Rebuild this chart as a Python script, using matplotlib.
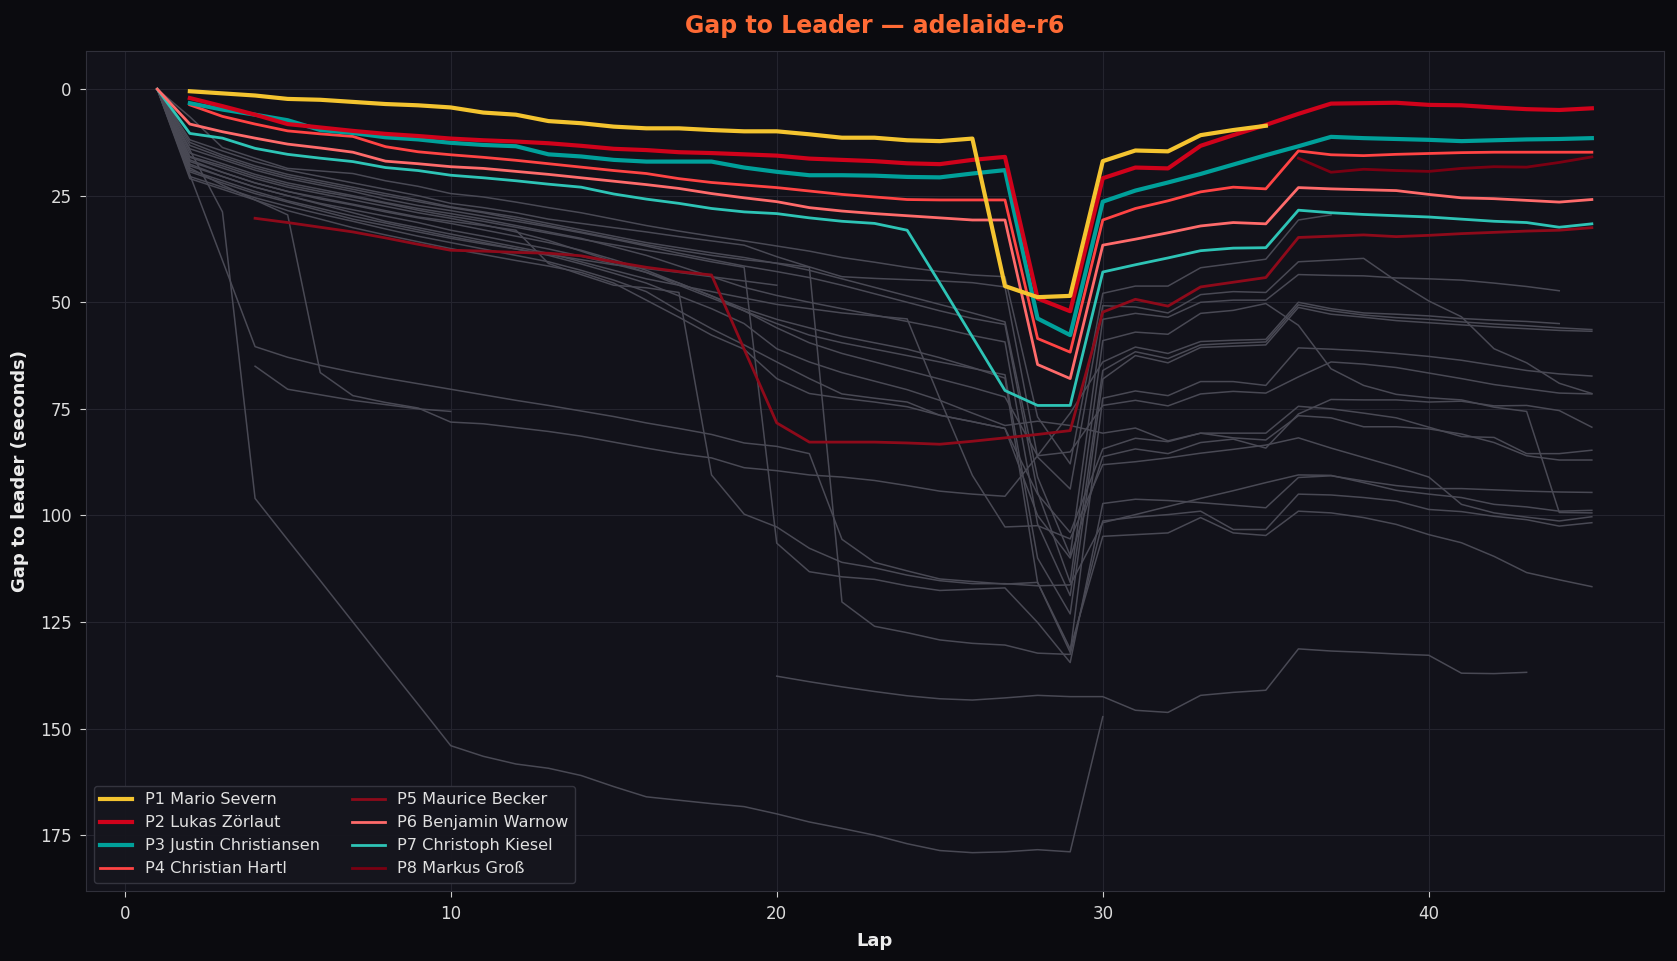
import numpy as np
import matplotlib
matplotlib.use("Agg")
import matplotlib.pyplot as plt

N = None
laps = list(range(1, 46))

# coloured drivers (gap to leader in seconds, per lap)
drivers = ["P1 Mario Severn", "P2 Lukas Zörlaut", "P3 Justin Christiansen", "P4 Christian Hartl",
           "P5 Maurice Becker", "P6 Benjamin Warnow", "P7 Christoph Kiesel", "P8 Markus Groß"]
colors = ["#f4c430", "#d0021b", "#00a09a", "#ff4444", "#8e0a1a", "#ff6b6b", "#2ec4b6", "#7a0012"]
widths = [3.0, 3.0, 3.0, 2.0, 2.0, 2.0, 2.0, 2.0]

p1 = [N, 0.5, 1.0, 1.5, 2.3, 2.5, 3.0, 3.5, 3.8, 4.3,
      5.5, 6.0, 7.5, 8.0, 8.8, 9.2, 9.2, 9.6, 9.9, 9.9,
      10.6, 11.4, 11.4, 12.0, 12.2, 11.6, 46.2, 48.8, 48.5, 16.9,
      14.4, 14.6, 10.8, 9.6, 8.6, N, N, N, N, N,
      N, N, N, N, N]
p2 = [N, 2.1, 4.0, 6.0, 8.2, 9.0, 9.8, 10.5, 11.0, 11.6,
      12.0, 12.3, 12.7, 13.3, 14.0, 14.3, 14.8, 15.0, 15.3, 15.6,
      16.3, 16.6, 16.9, 17.4, 17.6, 16.6, 15.9, 49.1, 52.1, 20.9,
      18.4, 18.6, 13.3, 10.8, 8.4, 5.8, 3.4, 3.3, 3.2, 3.7,
      3.8, 4.3, 4.7, 4.9, 4.5]
p3 = [N, 3.3, 4.8, 6.0, 7.3, 9.6, 10.3, 11.3, 11.8, 12.6,
      13.1, 13.4, 15.3, 15.8, 16.6, 17.0, 17.0, 17.0, 18.4, 19.4,
      20.2, 20.2, 20.3, 20.6, 20.7, 19.8, 19.0, 53.8, 57.7, 26.4,
      23.8, 21.9, 19.9, 17.7, 15.5, 13.4, 11.2, 11.5, 11.7, 11.9,
      12.2, 12.0, 11.8, 11.7, 11.5]
p4 = [N, 3.7, 6.4, 8.2, 9.8, 10.5, 11.1, 13.5, 14.7, 15.4,
      16.0, 16.7, 17.5, 18.3, 19.1, 19.8, 21.0, 21.9, 22.5, 23.1,
      23.9, 24.7, 25.3, 25.9, 26.0, 26.0, 26.0, 58.5, 61.7, 30.7,
      28.0, 26.2, 24.1, 23.0, 23.4, 14.5, 15.4, 15.6, 15.3, 15.1,
      14.9, 14.8, 14.8, 14.8, 14.8]
p5 = [N, N, N, 30.3, 31.3, 32.4, 33.5, 34.9, 36.4, 37.8,
      38.0, 38.3, 38.5, 39.1, 40.5, 41.8, 42.8, 43.6, 61.0, 78.3,
      82.8, 82.8, 82.8, 83.0, 83.3, 82.6, 81.8, 81.0, 80.1, 52.3,
      49.3, 50.9, 46.4, 45.3, 44.2, 34.8, 34.5, 34.2, 34.6, 34.3,
      33.9, 33.6, 33.3, 33.1, 32.5]
p6 = [0, 8.2, 10.0, 11.5, 12.9, 13.8, 14.8, 16.9, 17.5, 18.2,
      18.6, 19.3, 20.0, 20.8, 21.6, 22.4, 23.3, 24.5, 25.5, 26.4,
      27.8, 28.6, 29.2, 29.7, 30.2, 30.7, 30.7, 64.6, 67.9, 36.6,
      35.2, 33.7, 32.1, 31.3, 31.6, 23.1, 23.4, 23.6, 23.8, 24.7,
      25.5, 25.7, 26.1, 26.5, 25.9]
p7 = [0, 10.4, 11.5, 13.9, 15.3, 16.2, 17.0, 18.4, 19.1, 20.2,
      20.8, 21.5, 22.3, 23.0, 24.6, 25.8, 26.8, 28.0, 28.8, 29.2,
      30.2, 31.0, 31.5, 33.1, 45.5, 58.1, 70.7, 74.2, 74.2, 42.9,
      41.2, 39.6, 37.9, 37.3, 37.2, 28.4, 29.0, 29.4, 29.7, 30.0,
      30.5, 31.0, 31.3, 32.4, 31.6]
p8 = [N] * 35 + [16.2, 19.5, 18.8, 19.1, 19.3,
                 18.6, 18.2, 18.3, 17.2, 15.9]

# rest of the field
g01 = [0, 14.3, 28.8, 96.0, 105.7, 115.3, 125.0, 134.7, 144.3, 154.0,
       156.5, 158.3, 159.3, 161.0, 163.6, 166.0, 166.8, 167.6, 168.3, 170.0,
       171.9, 173.4, 175.0, 177.0, 178.6, 179.1, 178.9, 178.4, 178.9, 147.2] + [N] * 15
g02 = [0, 20.1, 40.2, 60.4, 62.9, 64.8, 66.4, 67.8, 69.1, 70.4,
       71.7, 73.0, 74.2, 75.5, 76.8, 78.3, 79.6, 81.0, 83.0, 83.8,
       85.5, 105.6, 111.0, 113.0, 114.9, 115.5, 116.1, 115.7, 131.3, 104.9,
       104.5, 104.1, 100.5, 104.1, 104.7, 99.0, 99.4, 100.5, 102.1, 104.5,
       106.4, 109.6, 113.4, 115.1, 116.7]
g03 = [0, 18.5, 22.5, 26.0, 29.5, 66.5, 71.9, 73.5, 74.8, 78.1,
       78.5, 79.4, 80.3, 81.4, 82.8, 84.2, 85.5, 86.5, 88.8, 89.5,
       90.5, 91.0, 91.8, 93.0, 94.3, 95.0, 95.5, 86.0, 76.0, 64.0,
       60.5, 62.0, 59.2, 58.9, 58.7, 50.0, 51.5, 52.5, 52.8, 53.2,
       53.8, 54.2, 54.5, 55.0, N]
g04 = [N, N, N, 65.0, 70.4, 71.7, 73.0, 74.0, 75.0, 75.6] + [N] * 35
g05 = [0, 16.6, 19.5, 22.0, 24.0, 25.5, 27.0, 28.5, 30.0, 31.0,
       32.0, 33.1, 40.9, 43.5, 46.0, 46.6, 47.7, 90.5, 99.7, 102.7,
       107.7, 111.0, 112.3, 114.0, 115.3, 116.0, 116.0, 116.5, 116.3, 101.7,
       99.8, 97.9, 96.0, 94.2, 92.3, 90.5, 90.6, 92.3, 94.1, 95.0,
       95.8, 97.4, 98.0, 99.0, 98.8]
g06 = [0, 15.8, 18.0, 20.5, 22.5, 24.0, 25.3, 26.8, 28.4, 29.8,
       31.0, 32.4, 33.8, 35.2, 36.5, 37.8, 39.0, 40.5, 41.8, 106.5,
       113.2, 114.4, 115.0, 116.5, 117.6, 117.3, 117.0, 125.1, 134.5, 97.2,
       96.2, 96.5, 97.0, 97.6, 98.2, 91.1, 90.7, 91.9, 93.0, 93.7,
       93.7, 94.0, 94.3, 94.5, 94.6]
g07 = [0, 13.2, 16.0, 18.5, 20.5, 22.0, 23.5, 25.0, 26.4, 27.8,
       29.0, 30.5, 32.0, 33.5, 35.0, 36.5, 37.8, 39.0, 40.0, 40.8,
       41.8, 120.3, 126.0, 127.5, 129.2, 130.0, 130.4, 132.3, 132.6, 101.3,
       100.4, 99.8, 99.0, 103.3, 103.3, 95.0, 95.2, 95.8, 96.6, 98.6,
       99.1, 100.2, 101.0, 102.5, 101.7]
g08 = [0, 19.4, 22.0, 24.5, 26.5, 28.5, 30.5, 32.0, 33.5, 35.0,
       36.3, 37.5, 38.8, 40.0, 41.2, 42.1, 43.0, 44.0, 45.0, 46.0] + [N] * 25
g09 = [0, 17.6, 20.5, 23.0, 25.0, 27.0, 29.0, 31.0, 32.5, 34.0,
       35.5, 37.0, 38.5, 40.5, 42.5, 44.5, 46.0, 47.5, 49.0, 50.5,
       51.5, 52.5, 53.2, 53.9, 72.6, 90.6, 102.7, 102.4, 105.5, 88.1,
       87.4, 86.5, 85.4, 84.5, 83.5, 81.8, 84.2, 86.4, 88.6, 91.0,
       97.4, 99.4, 100.4, 101.3, 100.3]
g10 = [0, 6.5, 13.7, 16.2, 18.6, 19.2, 19.8, 21.5, 22.8, 24.5,
       25.3, 26.5, 27.8, 29.0, 30.5, 32.0, 33.3, 34.5, 35.6, 36.8,
       38.0, 39.5, 40.6, 41.8, 42.8, 43.6, 44.0, 76.9, 87.9, 47.9,
       46.2, 46.2, 41.9, 40.9, 39.9, 30.7, 29.5] + [N] * 8
g11 = [0, 11.9, 14.5, 17.0, 19.0, 20.5, 22.0, 23.5, 25.0, 26.8,
       27.8, 29.0, 30.5, 31.5, 32.5, 33.5, 34.6, 35.6, 36.6, 39.3,
       41.7, 44.0, 44.4, 44.7, 45.0, 45.4, 46.4, 86.3, 93.8, 50.8,
       51.1, 52.5, 48.2, 47.5, 47.7, 40.5, 40.1, 39.7, 45.0, 49.7,
       53.4, 60.9, 64.2, 69.0, 71.4]
g12 = [0, 12.5, 15.5, 18.0, 20.0, 21.5, 23.0, 24.5, 26.0, 27.6,
       28.8, 30.0, 31.5, 33.0, 34.5, 36.0, 37.2, 38.4, 39.5, 40.9,
       42.5, 44.5, 46.5, 48.5, 50.5, 52.5, 54.6, 91.0, 109.4, 54.0,
       52.6, 53.5, 50.0, 49.5, 49.5, 43.5, 43.7, 43.8, 44.3, 44.5,
       44.8, 45.5, 46.3, 47.3, N]
g13 = [0, 14.0, 16.5, 19.0, 21.0, 22.5, 24.0, 25.8, 27.3, 28.5,
       29.8, 31.0, 32.3, 33.7, 35.2, 36.8, 38.5, 40.0, 41.5, 42.8,
       44.2, 46.0, 48.0, 50.0, 52.0, 53.8, 55.2, 94.5, 115.7, 59.0,
       57.0, 57.5, 52.6, 51.9, 50.3, 55.4, 65.6, 69.5, 71.6, 72.4,
       72.9, 74.6, 75.6, 99.3, 99.4]
g14 = [0, 15.0, 17.5, 20.0, 22.0, 23.5, 25.0, 26.6, 28.0, 29.2,
       30.5, 32.0, 33.5, 35.0, 37.0, 39.0, 41.5, 44.0, 46.5, 48.4,
       50.0, 51.5, 53.0, 54.5, 56.0, 57.8, 59.3, 102.0, 118.8, 66.0,
       61.6, 63.2, 60.0, 59.6, 59.3, 50.6, 52.0, 53.0, 53.6, 54.0,
       54.6, 55.1, 55.5, 56.0, 56.4]
g15 = [0, 16.0, 18.5, 21.0, 23.0, 24.5, 26.0, 27.5, 29.0, 30.3,
       31.8, 33.5, 35.5, 38.0, 40.5, 43.0, 46.0, 49.0, 52.0, 55.0,
       57.7, 59.5, 61.0, 62.5, 64.0, 65.5, 67.0, 110.0, 123.1, 68.0,
       62.5, 64.2, 60.6, 60.3, 60.0, 51.2, 52.8, 53.5, 54.3, 54.8,
       55.3, 55.8, 56.2, 56.6, 56.8]
g16 = [0, 17.0, 19.5, 22.0, 24.0, 25.8, 27.2, 28.8, 30.2, 31.5,
       33.0, 34.5, 36.0, 37.8, 40.0, 42.5, 45.5, 48.5, 51.5, 54.0,
       56.0, 58.0, 59.5, 61.0, 63.0, 65.3, 67.8, 115.7, 132.1, 72.5,
       70.8, 71.9, 68.6, 68.6, 69.5, 60.7, 61.0, 61.4, 62.0, 62.7,
       63.6, 64.8, 66.0, 66.8, 67.3]
g17 = [0, 18.0, 20.5, 23.0, 25.0, 26.8, 28.3, 29.8, 31.3, 33.1,
       34.5, 36.0, 37.5, 39.2, 41.0, 43.0, 45.5, 48.5, 52.0, 56.0,
       59.5, 62.0, 64.0, 66.0, 68.0, 70.0, 72.2, 86.0, 85.1, 74.2,
       73.0, 74.3, 71.5, 70.9, 71.3, 67.5, 64.0, 64.5, 65.3, 66.6,
       67.9, 69.3, 70.3, 71.3, 71.5]
g18 = [0, 19.0, 21.5, 24.0, 26.2, 28.0, 29.8, 31.4, 33.0, 34.6,
       36.0, 37.5, 39.0, 41.0, 43.2, 45.5, 48.5, 51.5, 55.0, 60.9,
       64.0, 66.5, 68.5, 70.5, 73.0, 76.0, 78.9, 77.9, 78.9, 80.7,
       79.5, 82.5, 80.7, 80.7, 80.7, 74.4, 75.0, 76.0, 77.1, 79.3,
       81.5, 81.7, 85.5, 85.5, 84.7]
g19 = [0, 20.5, 23.0, 25.5, 27.5, 29.3, 31.0, 32.8, 34.5, 36.0,
       37.5, 39.0, 40.5, 42.5, 44.8, 47.5, 52.0, 56.2, 60.0, 64.0,
       67.9, 71.5, 72.5, 73.4, 76.5, 78.0, 79.6, 95.0, 104.0, 84.4,
       81.9, 82.7, 80.7, 81.8, 82.3, 76.6, 77.1, 79.2, 79.2, 79.7,
       80.9, 82.9, 86.0, 87.0, 87.0]
g20 = [0, 21.0, 23.5, 26.0, 28.5, 30.5, 32.5, 34.2, 35.8, 37.4,
       38.8, 40.2, 41.5, 43.0, 45.5, 49.5, 53.5, 57.7, 61.0, 67.9,
       71.4, 72.5, 73.4, 74.5, 76.5, 78.0, 79.6, 100.0, 110.0, 86.2,
       84.4, 85.5, 82.9, 82.1, 84.2, 76.2, 72.8, 72.9, 72.9, 73.4,
       73.2, 74.3, 74.2, 75.4, 79.3]
g21 = [N] * 19 + [137.7, 139.0, 140.2, 141.3, 142.3, 143.0, 143.3, 142.8, 142.2, 142.5,
                  142.5, 145.7, 146.2, 142.2, 141.5, 141.0, 131.3, 131.8, 132.1, 132.5,
                  132.8, 137.0, 137.1, 136.8, N, N]

field = [g01, g02, g03, g04, g05, g06, g07, g08, g09, g10, g11,
         g12, g13, g14, g15, g16, g17, g18, g19, g20, g21]
top8 = [p1, p2, p3, p4, p5, p6, p7, p8]


def arr(vals):
    return np.array([np.nan if v is None else v for v in vals], dtype=float)


fig, ax = plt.subplots(figsize=(16.77, 9.61), dpi=100)
fig.patch.set_facecolor("#0b0b0f")
ax.set_facecolor("#12121a")

for g in field:
    ax.plot(laps, arr(g), color="#494954", lw=1.1, zorder=2)

# draw back to front so P1 ends up on top, legend keeps P1..P8 order
handles = [None] * 8
for i in range(7, -1, -1):
    h, = ax.plot(laps, arr(top8[i]), color=colors[i], lw=widths[i], label=drivers[i], zorder=3)
    handles[i] = h

ax.invert_yaxis()
ax.grid(True, color="#24242e", lw=0.8)
ax.set_axisbelow(True)
for s in ax.spines.values():
    s.set_color("#30303a")
ax.tick_params(colors="#d0d0d0", labelcolor="#dcdcdc", labelsize=12, length=4, pad=6)

ax.set_title("Gap to Leader — adelaide-r6", color="#ff6b35", fontsize=17, fontweight="bold", pad=13)
ax.set_xlabel("Lap", color="#ececec", fontsize=13, fontweight="bold", labelpad=7)
ax.set_ylabel("Gap to leader (seconds)", color="#ececec", fontsize=13, fontweight="bold", labelpad=8)

leg = ax.legend(handles=handles, loc="lower left", ncol=2, fontsize=11.6, handlelength=2.0,
                facecolor="#16161e", edgecolor="#363641", framealpha=0.95)
for t in leg.get_texts():
    t.set_color("#e0e0e0")

fig.subplots_adjust(left=0.051, right=0.992, top=0.947, bottom=0.073)
fig.savefig("out.png", dpi=100, facecolor=fig.get_facecolor())
